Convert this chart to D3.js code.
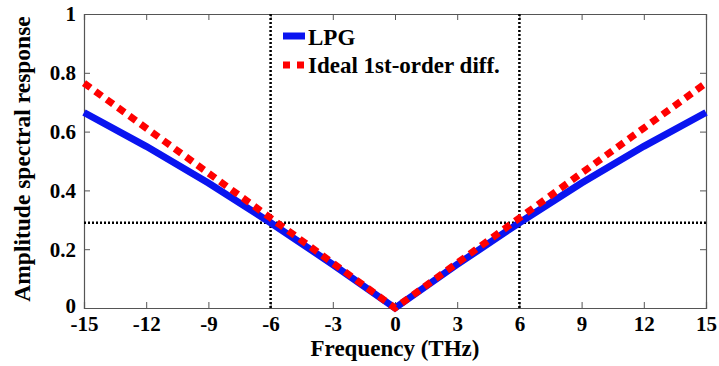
<!DOCTYPE html>
<html>
<head>
<meta charset="utf-8">
<script src="https://cdn.jsdelivr.net/npm/d3@7"></script>
<style>
  body { margin: 0; background: #fff; }
  svg text { font-family: "Times New Roman", "Liberation Serif", "DejaVu Serif", serif !important; font-weight: bold; fill: #000; }
</style>
</head>
<body>
<div id="chart"></div>
<script>
// frequency samples (THz)
const freq = [-15, -12, -9, -6, -3, 0, 3, 6, 9, 12, 15];
// measured LPG amplitude response
const lpg = [0.665, 0.55, 0.425, 0.29, 0.148, 0.0, 0.148, 0.29, 0.425, 0.55, 0.665];
// ideal first-order differentiator |f|
const ideal = [0.765, 0.612, 0.459, 0.306, 0.153, 0.0, 0.153, 0.306, 0.459, 0.612, 0.765];
const xTicks = [-15, -12, -9, -6, -3, 0, 3, 6, 9, 12, 15];
const yTicks = [0, 0.2, 0.4, 0.6, 0.8, 1];
const markX = [-6, 6];
const markY = [0.29];

const W = 719, H = 366;
const m = { left: 84, right: 13, top: 14, bottom: 58 };

const svg = d3.select('#chart').append('svg')
  .attr('width', W).attr('height', H);

const x = d3.scaleLinear().domain([-15, 15]).range([m.left, W - m.right]);
const y = d3.scaleLinear().domain([0, 1]).range([H - m.bottom, m.top]);

const fmtX = d => String(d);           // plain hyphen minus like the original
const fmtY = d => String(d);

// ---------- axes (ticks inside, mirrored) ----------
const axisColor = '#555';
function styleAxis(g) {
  g.attr('font-family', null).attr('font-size', null);
  g.selectAll('.domain').attr('stroke', axisColor).attr('stroke-width', 1.2);
  g.selectAll('.tick line').attr('stroke', axisColor);
  g.selectAll('.tick text').style('font-size', '21px');
}

svg.append('g')
  .attr('transform', `translate(0,${y(0)})`)
  .call(d3.axisBottom(x).tickValues(xTicks).tickSize(-6).tickPadding(8).tickFormat(fmtX))
  .call(styleAxis)
  .call(g => g.selectAll('.tick text').attr('dy', '0.71em'));

svg.append('g')
  .attr('transform', `translate(0,${y(1)})`)
  .call(d3.axisTop(x).tickValues(xTicks).tickSize(-6).tickFormat(''))
  .call(styleAxis);

svg.append('g')
  .attr('transform', `translate(${x(-15)},0)`)
  .call(d3.axisLeft(y).tickValues(yTicks).tickSize(-6).tickPadding(8).tickFormat(fmtY))
  .call(styleAxis)
  .call(g => g.selectAll('.tick text').attr('dy', d => d === 0 ? '0.22em' : '0.33em'));

svg.append('g')
  .attr('transform', `translate(${x(15)},0)`)
  .call(d3.axisRight(y).tickValues(yTicks).tickSize(-6).tickFormat(''))
  .call(styleAxis);

// ---------- dotted guide lines ----------
const guides = svg.append('g')
  .attr('stroke', '#000').attr('stroke-width', 2.5).attr('stroke-dasharray', '2,2');
guides.selectAll('.vx').data(markX).join('line')
  .attr('x1', d => x(d)).attr('x2', d => x(d))
  .attr('y1', y(1)).attr('y2', y(0));
guides.selectAll('.hy').data(markY).join('line')
  .attr('x1', x(-15)).attr('x2', x(15))
  .attr('y1', d => y(d)).attr('y2', d => y(d));

// ---------- series ----------
const line = d3.line().x((d, i) => x(freq[i])).y(d => y(d));

svg.append('path')
  .datum(lpg)
  .attr('fill', 'none')
  .attr('stroke', '#0a14f0')
  .attr('stroke-width', 7)
  .attr('d', line);

svg.append('path')
  .datum(ideal)
  .attr('fill', 'none')
  .attr('stroke', '#ff0000')
  .attr('stroke-width', 7)
  .attr('stroke-dasharray', '8,6')
  .attr('d', line);

// ---------- legend ----------
const leg = svg.append('g');
leg.append('line')
  .attr('x1', 283).attr('x2', 305).attr('y1', 36).attr('y2', 36)
  .attr('stroke', '#0a14f0').attr('stroke-width', 7);
leg.append('text').attr('x', 308).attr('y', 45).style('font-size', '23px').text('LPG');
leg.append('line')
  .attr('x1', 283).attr('x2', 305).attr('y1', 65).attr('y2', 65)
  .attr('stroke', '#ff0000').attr('stroke-width', 7).attr('stroke-dasharray', '7,7');
leg.append('text').attr('x', 308).attr('y', 73).style('font-size', '23px').text('Ideal 1st-order diff.');

// ---------- axis titles ----------
svg.append('text')
  .attr('x', x(0)).attr('y', 356)
  .attr('text-anchor', 'middle')
  .style('font-size', '23px')
  .text('Frequency (THz)');

svg.append('text')
  .attr('transform', `translate(30,159) rotate(-90)`)
  .attr('text-anchor', 'middle')
  .style('font-size', '23.5px')
  .text('Amplitude spectral response');
</script>
</body>
</html>
